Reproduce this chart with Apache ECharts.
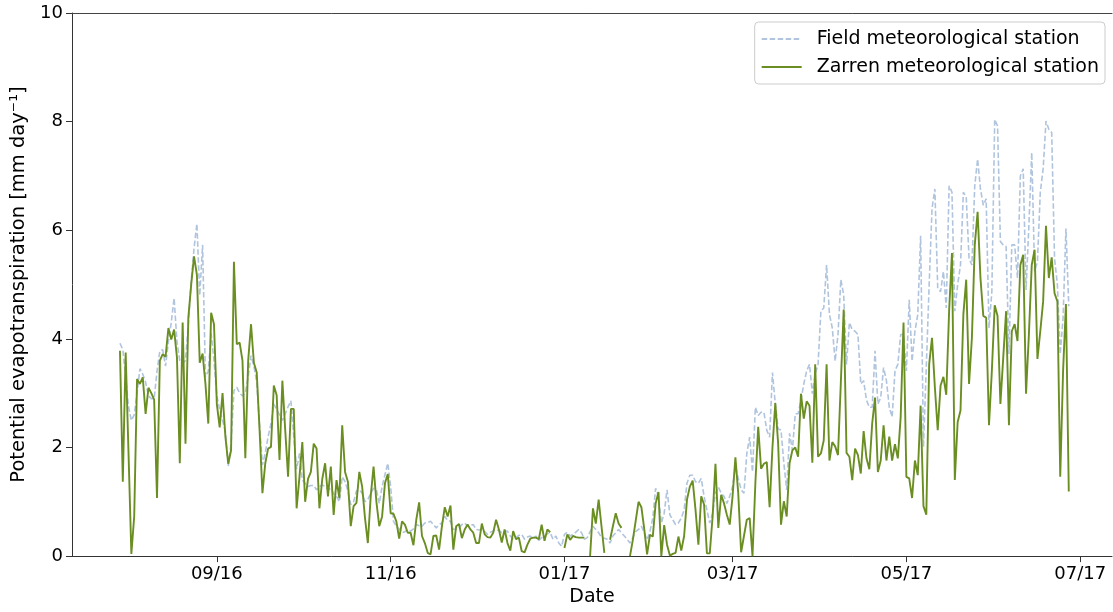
<!DOCTYPE html>
<html>
<head>
<meta charset="utf-8">
<title>Potential evapotranspiration</title>
<script src="https://cdn.jsdelivr.net/npm/echarts@6/dist/echarts.min.js"></script>
<style>
  html, body { margin: 0; padding: 0; background: #ffffff; overflow: hidden; }
  #chart { width: 1113px; height: 612px; }
</style>
</head>
<body>
<div id="chart"></div>
<script>
// Daily series, first day 29 Jul 2016
const FIRST_DAY = [2016, 6, 29];

// Field meteorological station, mm/day
const fieldStation = [
  3.92, 3.8, 3.3, 2.75, 2.5, 2.6, 3.0, 3.45, 3.35, 3.2,
  2.95, 2.9, 2.9, 3.4, 3.78, 3.8, 3.5, 3.95, 4.3, 4.75,
  3.95, 3.6, 3.55, 3.6, 4.27, 5.06, 5.67, 6.12, 4.8, 5.73,
  3.3, 3.4, 4.1, 3.6, 2.95, 2.7, 2.5, 2.3, 1.65, 2.07,
  3.05, 3.11, 3.0, 2.95, 3.0, 3.3, 3.69, 3.5, 3.2, 2.4,
  1.68, 1.9, 2.2, 2.44, 2.8, 2.7, 2.6, 2.5, 2.62, 2.75,
  2.86, 2.2, 1.6, 1.89, 1.4, 1.34, 1.28, 1.3, 1.3, 1.22,
  1.28, 1.31, 1.28, 1.22, 1.25, 1.15, 1.1, 1.0, 1.46, 1.37,
  1.2, 0.95, 1.0, 1.2, 1.22, 1.16, 1.0, 1.05, 1.15, 1.25,
  1.22, 0.97, 1.28, 1.5, 1.71, 1.28, 0.64, 0.55, 0.5, 0.43,
  0.45, 0.49, 0.46, 0.5, 0.58, 0.56, 0.55, 0.61, 0.62, 0.64,
  0.58, 0.52, 0.58, 0.61, 0.73, 0.66, 0.64, 0.49, 0.5, 0.52,
  0.58, 0.61, 0.55, 0.57, 0.58, 0.49, 0.48, 0.49, 0.45, 0.4,
  0.44, 0.46, 0.49, 0.47, 0.43, 0.45, 0.46, 0.37, 0.31, 0.34,
  0.38, 0.4, 0.31, 0.35, 0.37, 0.32, 0.37, 0.29, 0.34, 0.37,
  0.41, 0.43, 0.31, 0.37, 0.24, 0.18, 0.4, 0.44, 0.37, 0.4,
  0.44, 0.49, 0.43, 0.31, 0.34, 0.45, 0.55, 0.49, 0.43, 0.34,
  0.33, 0.31, 0.24, 0.37, 0.43, 0.49, 0.43, 0.37, 0.31, 0.24,
  0.34, 0.45, 0.49, 0.55, 0.43, 0.3, 0.45, 0.7, 1.25, 1.1,
  0.61, 0.79, 1.22, 0.76, 0.67, 0.58, 0.61, 0.7, 0.85, 1.34,
  1.49, 1.49, 1.37, 1.34, 1.43, 1.1, 0.85, 0.61, 0.79, 1.16,
  1.27, 1.16, 1.1, 0.97, 1.1, 1.28, 1.64, 1.43, 1.22, 1.16,
  1.89, 2.19, 1.55, 2.74, 2.59, 2.65, 2.65, 2.32, 2.19, 3.38,
  2.8, 2.34, 2.32, 1.71, 1.22, 2.26, 1.95, 2.62, 2.62, 2.87,
  3.17, 3.41, 3.53, 2.99, 3.35, 3.53, 4.51, 4.57, 5.36, 4.45,
  4.2, 3.59, 4.08, 5.09, 4.81, 3.53, 4.3, 4.17, 4.14, 4.08,
  3.17, 3.23, 2.87, 2.74, 2.74, 3.78, 2.8, 2.92, 3.47, 3.23,
  2.74, 2.56, 3.41, 3.53, 4.08, 4.08, 3.41, 4.72, 3.59, 4.14,
  4.45, 5.9, 2.01, 3.5, 5.0, 6.4, 6.76, 4.93, 4.87, 5.24,
  4.57, 6.82, 6.7, 4.51, 5.0, 5.36, 6.7, 6.61, 5.48, 5.36,
  6.82, 7.31, 6.76, 6.46, 6.58, 4.2, 4.87, 8.04, 7.92, 5.79,
  5.73, 5.7, 3.72, 5.73, 5.73, 5.12, 7.0, 7.13, 4.9, 6.09,
  7.43, 5.24, 5.42, 6.7, 7.13, 8.01, 7.86, 7.8, 5.48, 5.0,
  3.72, 4.39, 6.03, 4.6
];

// Zarren meteorological station, mm/day (null = no record)
const zarrenStation = [
  3.78, 1.37, 3.75, 1.9, 0.04, 0.73, 3.26, 3.17, 3.29, 2.62,
  3.1, 3.0, 2.88, 1.07, 3.6, 3.72, 3.67, 4.2, 3.99, 4.17,
  3.66, 1.71, 4.3, 2.07, 4.39, 5.0, 5.52, 5.18, 3.56, 3.73,
  3.17, 2.44, 4.48, 4.27, 2.8, 2.37, 3.0, 2.2, 1.7, 1.95,
  5.42, 3.9, 3.93, 3.6, 1.8, 3.6, 4.27, 3.56, 3.38, 2.32,
  1.16, 1.71, 1.98, 2.01, 3.14, 2.96, 1.77, 3.23, 2.32, 1.46,
  2.71, 2.71, 0.88, 1.46, 2.1, 1.0, 1.42, 1.55, 2.07, 1.98,
  0.88, 1.42, 1.71, 1.1, 1.65, 0.76, 1.4, 1.07, 2.41, 1.55,
  1.37, 0.55, 0.92, 0.98, 1.55, 1.28, 0.7, 0.24, 1.1, 1.65,
  1.0, 0.55, 0.73, 1.34, 1.51, 0.79, 0.78, 0.64, 0.32, 0.64,
  0.58, 0.43, 0.43, 0.2, 0.67, 0.99, 0.37, 0.24, 0.06, 0.03,
  0.37, 0.38, 0.12, 0.55, 0.9, 0.73, 0.93, 0.12, 0.55, 0.59,
  0.33, 0.49, 0.58, 0.49, 0.43, 0.24, 0.24, 0.6, 0.4, 0.35,
  0.34, 0.43, 0.67, 0.49, 0.25, 0.49, 0.24, 0.1, 0.46, 0.31,
  0.34, 0.09, 0.07, 0.21, 0.32, 0.34, 0.34, 0.31, 0.58, 0.28,
  0.49, 0.44, null, null, null, null, 0.15, 0.4, 0.3, 0.37,
  0.35, 0.34, 0.34, 0.34, null, 0, 0.88, 0.6, 1.04, 0.55,
  0.06, null, 0.3, 0.55, 0.79, 0.6, 0.52, null, null, 0,
  0.3, 0.65, 1.0, 0.9, 0.5, 0.03, 0.39, 0.36, 0.97, 1.18,
  0, 0.57, 0.21, 0.01, 0.04, 0.06, 0.36, 0.1, 0.37, 1.04,
  1.28, 1.39, 0.85, 0.21, 1.1, 0.95, 0.05, 0.05, 0.73, 1.7,
  0.52, 1.13, 0.97, 0.76, 0.58, 1.1, 1.82, 1.15, 0.07, 0.37,
  0.67, 0.7, 0.0, 1.34, 2.38, 1.61, 1.7, 1.73, 0.9, 2.0,
  2.82, 2.07, 0.58, 1.01, 0.73, 1.71, 1.95, 2.0, 1.83, 2.99,
  2.53, 2.85, 2.77, 1.72, 3.53, 1.83, 1.89, 2.13, 3.53, 1.76,
  2.1, 2.02, 1.86, 3.2, 4.54, 1.9, 1.83, 1.4, 1.98, 1.86,
  1.52, 2.3, 1.8, 1.6, 2.44, 2.92, 1.55, 1.76, 2.41, 1.76,
  2.2, 1.76, 2.06, 1.8, 2.56, 4.3, 1.46, 1.43, 1.07, 1.76,
  1.49, 2.77, 0.92, 0.76, 3.53, 4.02, 3.11, 2.32, 3.14, 3.3,
  2.97, 4.51, 5.58, 1.4, 2.47, 2.68, 4.45, 5.09, 3.17, 4.02,
  5.73, 6.34, 5.12, 4.42, 4.39, 2.41, 3.41, 4.62, 4.42, 2.8,
  3.66, 4.51, 2.41, 4.14, 4.27, 3.96, 5.36, 5.55, 2.99, 4.08,
  5.36, 5.64, 3.63, 4.14, 4.69, 6.08, 5.12, 5.5, 4.84, 4.69,
  1.46, 3.41, 4.64, 1.19
];

const seriesNames = ['Field meteorological station', 'Zarren meteorological station'];

// Tick marks on the first day of every second month
const tickDates = [[2016, 8, 1], [2016, 10, 1], [2017, 0, 1], [2017, 2, 1], [2017, 4, 1], [2017, 6, 1]];
const tickLabels = ['09/16', '11/16', '01/17', '03/17', '05/17', '07/17'];

const DAY = 86400000;
const start = Date.UTC(FIRST_DAY[0], FIRST_DAY[1], FIRST_DAY[2]);
const toPairs = arr => arr.map((v, i) => [start + i * DAY, v]);
const tickValues = tickDates.map(d => Date.UTC(d[0], d[1], d[2]));

const axisMin = Date.UTC(2016, 6, 12, 4);
const axisMax = axisMin + 365 * DAY;

const FONT = 'DejaVu Sans';
const INK = '#000000';
const SPINE = '#333333';

const chart = echarts.init(document.getElementById('chart'), null, { renderer: 'canvas', width: 1113, height: 612 });

chart.setOption({
  animation: false,
  backgroundColor: '#ffffff',
  textStyle: { fontFamily: FONT },
  grid: { left: 72, right: 1, top: 13, bottom: 52, containLabel: false },
  legend: {
    orient: 'vertical',
    right: 8,
    top: 22,
    padding: [6, 6, 6, 6],
    itemGap: 6,
    itemWidth: 40,
    itemHeight: 14,
    backgroundColor: 'rgba(255,255,255,0.8)',
    borderColor: '#cccccc',
    borderWidth: 1,
    borderRadius: 4,
    data: seriesNames,
    // keep only the line sample, no marker in the middle
    itemStyle: { opacity: 0 },
    textStyle: {
      fontFamily: FONT,
      fontSize: 19,
      color: INK,
      lineHeight: 22,
      padding: [0, 0, 0, 10]
    }
  },
  xAxis: [
    {
      type: 'value',
      min: axisMin,
      max: axisMax,
      name: 'Date',
      nameLocation: 'middle',
      nameGap: 30,
      nameTextStyle: { fontFamily: FONT, fontSize: 19, color: INK },
      axisLine: { show: true, onZero: false, lineStyle: { color: SPINE, width: 1 } },
      axisTick: { show: true, length: 6, lineStyle: { color: SPINE }, customValues: tickValues },
      axisLabel: {
        fontFamily: FONT,
        fontSize: 18,
        color: INK,
        margin: 9,
        customValues: tickValues,
        formatter: value => {
          const k = tickValues.indexOf(value);
          return k >= 0 ? tickLabels[k] : '';
        }
      },
      splitLine: { show: false }
    },
    {
      type: 'value',
      position: 'top',
      min: 0,
      max: 1,
      axisLine: { show: true, onZero: false, lineStyle: { color: '#444444', width: 1 } },
      axisTick: { show: false },
      axisLabel: { show: false },
      splitLine: { show: false }
    }
  ],
  yAxis: {
    type: 'value',
    min: 0,
    max: 10,
    interval: 2,
    name: 'Potential evapotranspiration [mm day\u207B\u00B9]',
    nameLocation: 'middle',
    nameGap: 40,
    nameTextStyle: { fontFamily: FONT, fontSize: 19.5, color: INK },
    axisLine: { show: true, onZero: false, lineStyle: { color: SPINE, width: 1 } },
    axisTick: { show: true, length: 6, lineStyle: { color: SPINE } },
    axisLabel: { fontFamily: FONT, fontSize: 18, color: INK, margin: 9 },
    splitLine: { show: false }
  },
  series: [
    {
      name: seriesNames[0],
      type: 'line',
      xAxisIndex: 0,
      data: toPairs(fieldStation),
      symbol: 'none',
      lineStyle: { color: '#b0c4de', width: 1.6, type: [5.5, 2.5] },
      itemStyle: { color: '#b0c4de' },
      z: 2
    },
    {
      name: seriesNames[1],
      type: 'line',
      xAxisIndex: 0,
      data: toPairs(zarrenStation),
      symbol: 'none',
      connectNulls: false,
      lineStyle: { color: '#6b8e23', width: 1.9 },
      itemStyle: { color: '#6b8e23' },
      z: 3
    }
  ]
});
</script>
</body>
</html>
